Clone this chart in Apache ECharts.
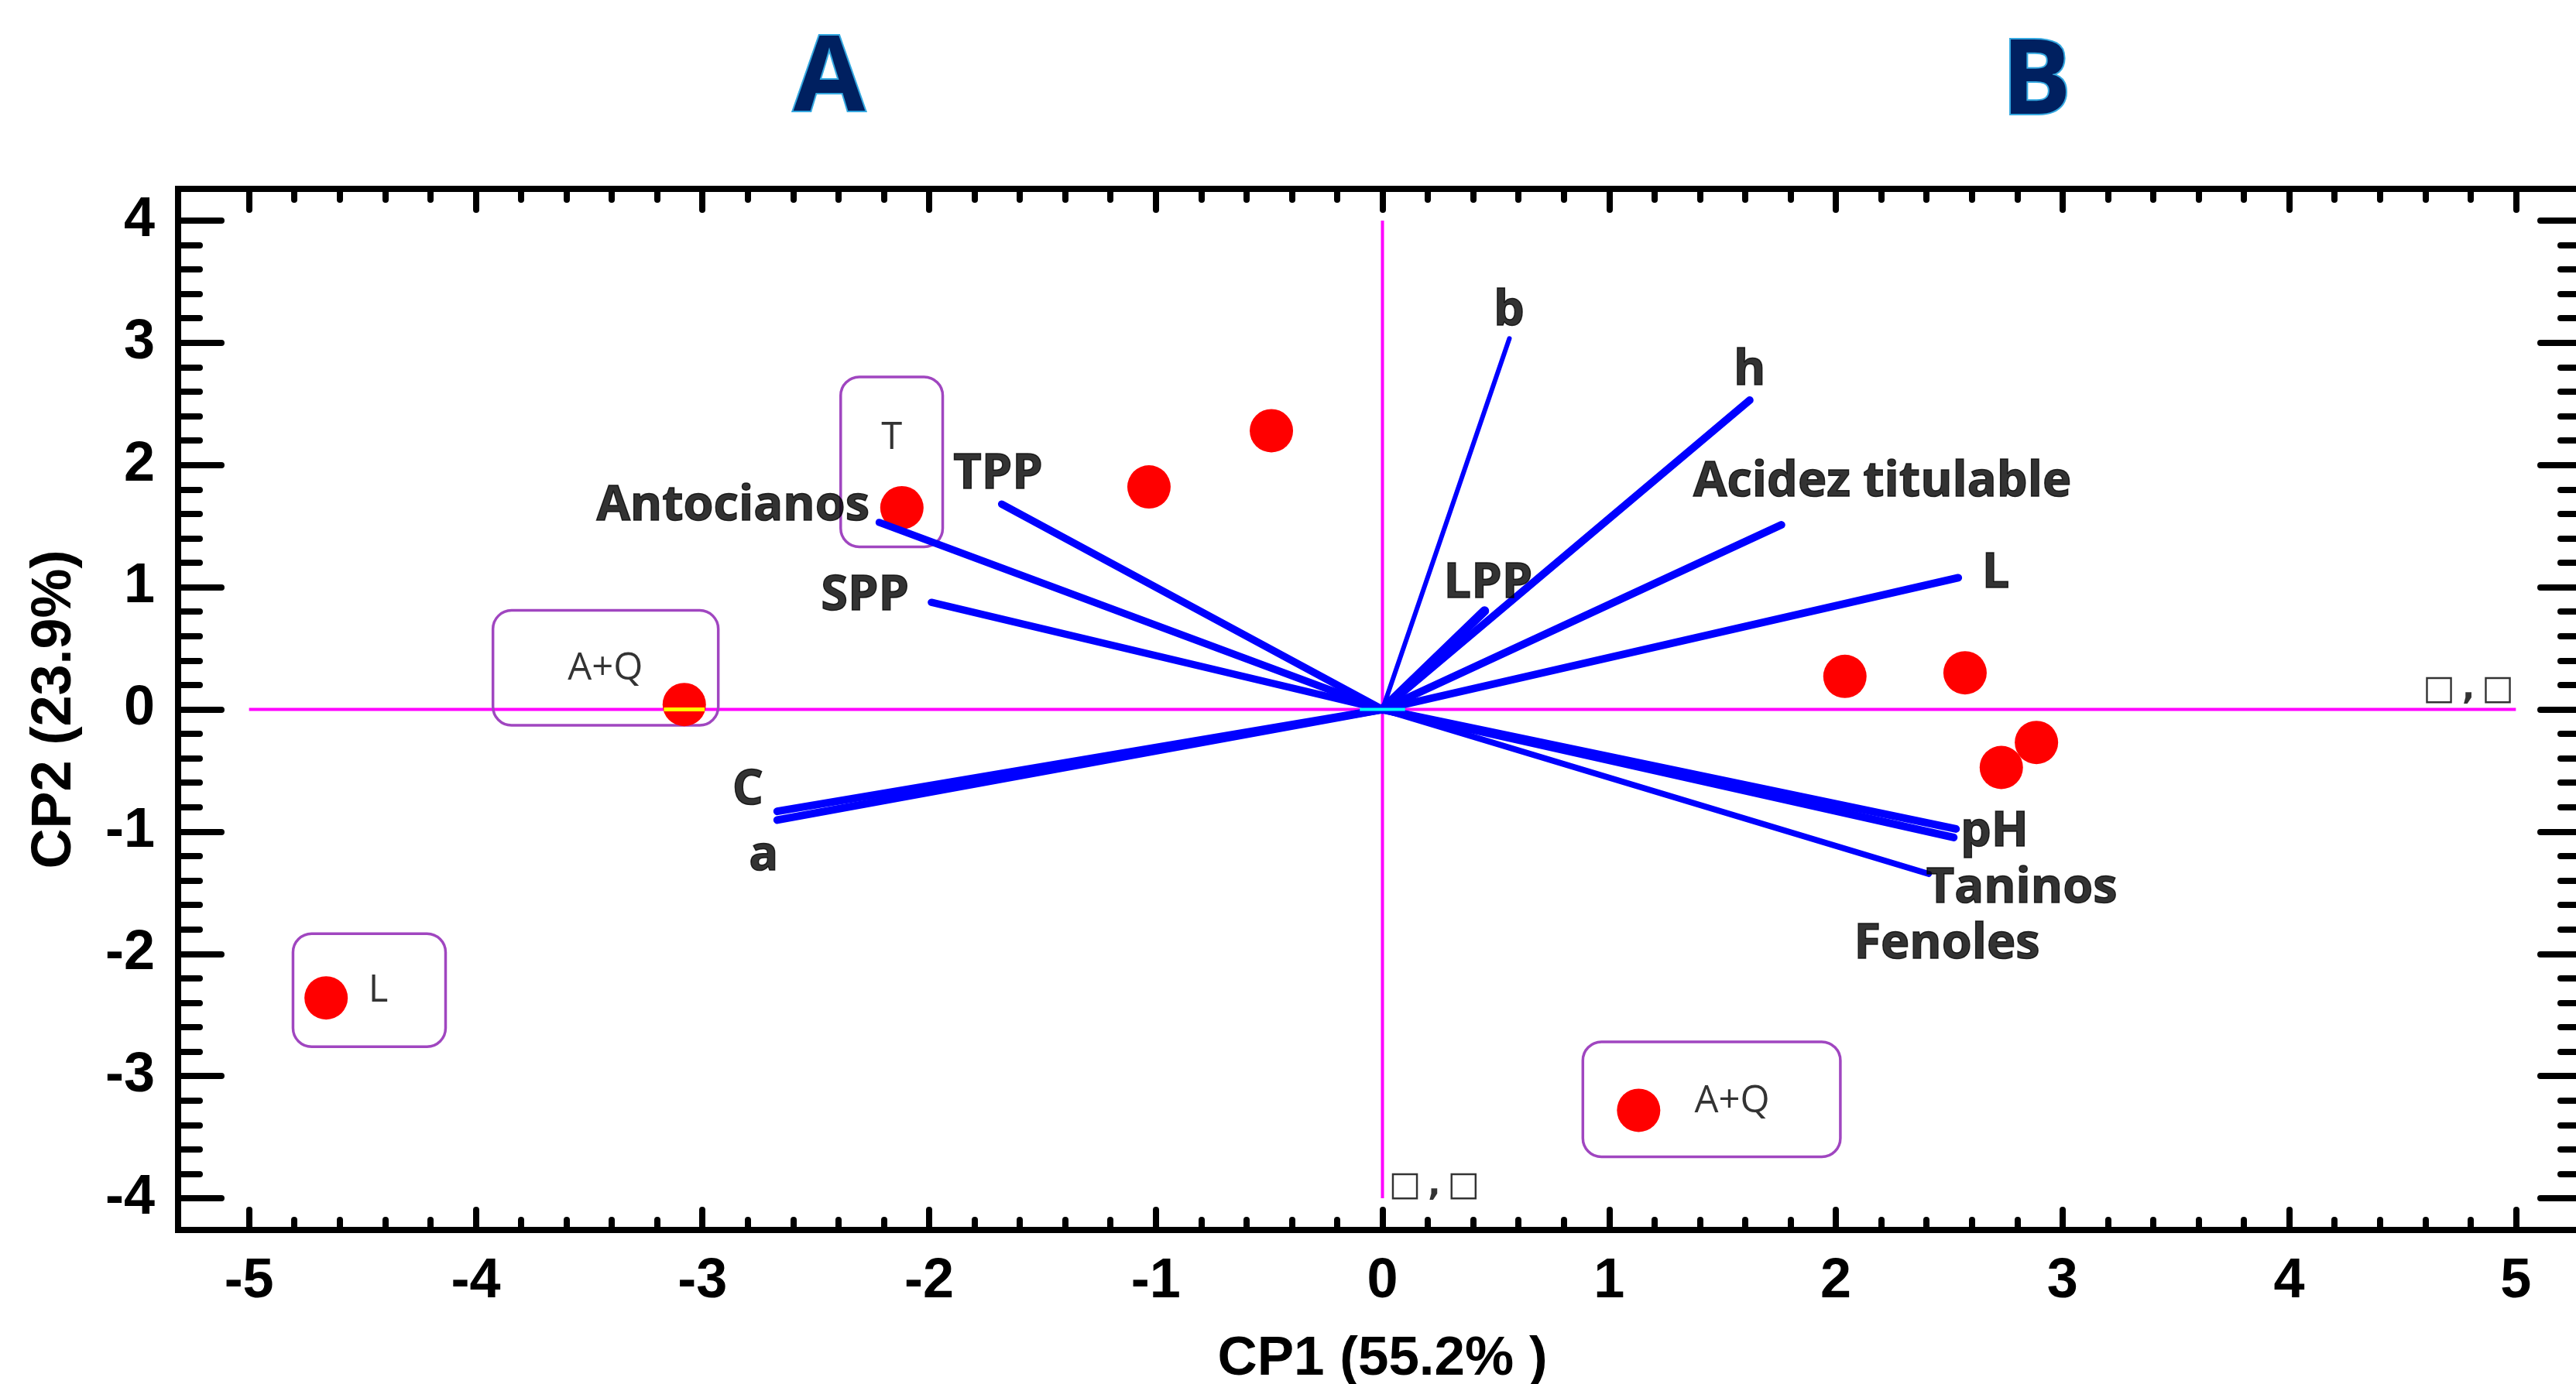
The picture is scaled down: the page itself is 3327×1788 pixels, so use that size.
<!DOCTYPE html>
<html lang="es">
<head>
<meta charset="UTF-8">
<title>Biplot CP1 - CP2</title>
<script src="https://cdn.jsdelivr.net/npm/echarts@6/dist/echarts.min.js"></script>
<style>html,body{margin:0;padding:0;background:#fff;overflow:hidden;}</style>
</head>
<body>
<div id="main" style="width:3327px;height:1788px;"></div>
<script type="text/javascript">
// puntuaciones de las muestras (CP1, CP2)
var sampleX = [-4.66, -3.08, -2.12, -1.03, -0.49, 2.04, 2.57, 2.73, 2.885, 1.13];
var sampleY = [-2.36, 0.04, 1.65, 1.82, 2.28, 0.27, 0.30, -0.475, -0.27, -3.28];

// cargas de las variables (extremo de cada vector)
var varNames = ['b', 'h', 'Acidez titulable', 'L', 'LPP', 'TPP', 'Antocianos', 'SPP', 'C', 'a', 'pH', 'Taninos', 'Fenoles'];
var varX = [0.56, 1.62, 1.76, 2.54, 0.45, -1.68, -2.22, -1.99, -2.67, -2.67, 2.53, 2.52, 2.41];
var varY = [3.035, 2.53, 1.51, 1.077, 0.806, 1.68, 1.53, 0.876, -0.834, -0.905, -0.978, -1.048, -1.346];
var varWidth = [6, 10, 10, 10, 12, 9.5, 9.5, 9.5, 10, 10, 10, 10, 8];

// posicion de los nombres de las variables
var varLabelX = [0.558, 1.62, 2.205, 2.705, 0.466, -1.696, -2.865, -2.283, -2.80, -2.73, 2.70, 2.82, 2.49];
var varLabelY = [3.26, 2.77, 1.86, 1.11, 1.03, 1.92, 1.66, 0.925, -0.66, -1.20, -1.005, -1.467, -1.92];

// recuadros de los grupos
var groupNames = ['T', 'A+Q', 'L', 'A+Q'];
var groupLabelX = [-2.165, -3.428, -4.43, 1.542];
var groupLabelY = [2.22, 0.33, -2.30, -3.205];
var boxX1 = [-2.39, -3.924, -4.806, 0.884];
var boxY1 = [2.72, 0.81, -1.835, -2.72];
var boxX2 = [-1.94, -2.93, -4.133, 2.02];
var boxY2 = [1.33, -0.13, -2.76, -3.66];

// textos sin glifo ("□,□")
var tofuX = [0.028, 4.59];
var tofuY = [-3.90, 0.16];

// ejes de referencia y marcas
var refX = [-5, 5];
var refY = [-4, 4];
var yellowX = [-3.17, -2.99];
var cyanX = [-0.1, 0.1];
var xTicks = [-5, -4, -3, -2, -1, 0, 1, 2, 3, 4, 5];
var yTicks = [-4, -3, -2, -1, 0, 1, 2, 3, 4];

var X_MIN = -5.313, X_MAX = 5.313, Y_MIN = -4.259, Y_MAX = 4.259;

function minorOf(ticks) {
    var out = [];
    for (var i = 0; i < ticks.length - 1; i++) {
        for (var k = 1; k < 5; k++) out.push(+(ticks[i] + k * 0.2).toFixed(2));
    }
    return out;
}

function axis(pos, min, max, ticks, len, withLine) {
    return {
        type: 'value', position: pos, min: min, max: max,
        splitLine: {show: false},
        axisLine: {show: withLine, onZero: false, lineStyle: {color: '#000', width: 8, cap: 'square'}},
        axisTick: {show: true, inside: true, length: len, customValues: ticks,
                   lineStyle: {color: '#000', width: 8, cap: 'round'}},
        axisLabel: {show: false}
    };
}

var tickFont = {color: '#000', fontSize: 72, fontWeight: 'bold', fontFamily: '"Liberation Sans", Arial, sans-serif'};

var xBottom = axis('bottom', X_MIN, X_MAX, xTicks, 26, true);
xBottom.axisLabel = Object.assign({show: true, customValues: xTicks, margin: 31}, tickFont);
xBottom.name = 'CP1 (55.2% )';
xBottom.nameLocation = 'middle';
xBottom.nameGap = 132;
xBottom.nameTextStyle = Object.assign({}, tickFont, {fontSize: 71});

var yLeft = axis('left', Y_MIN, Y_MAX, yTicks, 56, true);
yLeft.axisLabel = Object.assign({show: true, customValues: yTicks, margin: 30}, tickFont);
yLeft.name = 'CP2 (23.9%)';
yLeft.nameLocation = 'middle';
yLeft.nameRotate = 90;
yLeft.nameGap = 123;
yLeft.nameTextStyle = Object.assign({}, tickFont, {fontSize: 72});

var myChart = echarts.init(document.getElementById('main'));

var labelFont = {color: '#000000', fontSize: 63, fontWeight: 'bold', fontFamily: '"Open Sans", sans-serif',
                 textBorderColor: '#000000', textBorderWidth: 1.5};

var option = {
    backgroundColor: '#fff',
    animation: false,
    // el marco sigue un poco mas alla del borde derecho, como en el original
    grid: {left: 230, top: 244, width: 3111, height: 1345, containLabel: false, outerBoundsMode: 'none'},
    xAxis: [
        xBottom,
        axis('bottom', X_MIN, X_MAX, minorOf(xTicks), 13, false),
        axis('top', X_MIN, X_MAX, xTicks, 27, true),
        axis('top', X_MIN, X_MAX, minorOf(xTicks), 14, false)
    ],
    yAxis: [
        yLeft,
        axis('left', Y_MIN, Y_MAX, minorOf(yTicks), 28, false),
        axis('right', Y_MIN, Y_MAX, yTicks, 60, true),
        axis('right', Y_MIN, Y_MAX, minorOf(yTicks), 34, false)
    ],
    graphic: [
        {type: 'text', x: 1071, y: 38, z: 10,
         style: {text: 'A', fill: '#002060', stroke: '#35A8E0', lineWidth: 4,
                 fontSize: 134, fontWeight: 'bold', fontFamily: '"Open Sans", sans-serif',
                 align: 'center', verticalAlign: 'top'}},
        {type: 'text', x: 2630, y: 42, z: 10,
         style: {text: 'B', fill: '#002060', stroke: '#35A8E0', lineWidth: 4,
                 fontSize: 134, fontWeight: 'bold', fontFamily: '"Open Sans", sans-serif',
                 align: 'center', verticalAlign: 'top'}}
    ],
    series: [
        {   // ejes magenta
            type: 'line', z: 1, silent: true, symbol: 'none',
            lineStyle: {color: '#FF00FF', width: 4},
            data: refX.map(function (x) { return [x, 0]; })
        },
        {
            type: 'line', z: 1, silent: true, symbol: 'none',
            lineStyle: {color: '#FF00FF', width: 4},
            data: refY.map(function (y) { return [0, y]; })
        },
        {   // recuadros
            type: 'custom', z: 2, silent: true,
            encode: {x: [0, 2], y: [1, 3]},
            data: boxX1.map(function (x, i) { return [x, boxY1[i], boxX2[i], boxY2[i]]; }),
            renderItem: function (params, api) {
                var a = api.coord([api.value(0), api.value(1)]);
                var b = api.coord([api.value(2), api.value(3)]);
                return {
                    type: 'rect',
                    shape: {x: a[0], y: a[1], width: b[0] - a[0], height: b[1] - a[1], r: 24},
                    style: {fill: 'none', stroke: '#A046C0', lineWidth: 3.5}
                };
            }
        },
        {   // muestras
            type: 'scatter', z: 3, symbol: 'circle', symbolSize: 56,
            itemStyle: {color: '#FF0000', opacity: 1},
            data: sampleX.map(function (x, i) { return [x, sampleY[i]]; })
        },
        {   // vectores
            type: 'custom', z: 4, silent: true,
            data: varX.map(function (x, i) { return [x, varY[i], varWidth[i]]; }),
            renderItem: function (params, api) {
                var o = api.coord([0, 0]);
                var p = api.coord([api.value(0), api.value(1)]);
                return {
                    type: 'line',
                    shape: {x1: o[0], y1: o[1], x2: p[0], y2: p[1]},
                    style: {stroke: '#0000FF', lineWidth: api.value(2), lineCap: 'round'}
                };
            }
        },
        {
            type: 'line', z: 5, silent: true, symbol: 'none',
            lineStyle: {color: '#FFFF00', width: 5},
            data: yellowX.map(function (x) { return [x, 0]; })
        },
        {
            type: 'line', z: 5, silent: true, symbol: 'none',
            lineStyle: {color: '#00FFFF', width: 4},
            data: cyanX.map(function (x) { return [x, 0]; })
        },
        {   // nombres de variables
            type: 'scatter', z: 6, silent: true, symbolSize: 1,
            itemStyle: {color: 'rgba(0,0,0,0)'},
            label: Object.assign({show: true, position: 'inside', align: 'center', verticalAlign: 'middle',
                                  formatter: function (p) { return varNames[p.dataIndex]; }}, labelFont),
            data: varLabelX.map(function (x, i) { return [x, varLabelY[i]]; })
        },
        {   // nombres de grupos
            type: 'scatter', z: 6, silent: true, symbolSize: 1,
            itemStyle: {color: 'rgba(0,0,0,0)'},
            label: {show: true, position: 'inside', align: 'center', verticalAlign: 'middle',
                    color: '#000', fontSize: 49, fontFamily: '"Open Sans", sans-serif',
                    formatter: function (p) { return groupNames[p.dataIndex]; }},
            data: groupLabelX.map(function (x, i) { return [x, groupLabelY[i]]; })
        },
        {
            type: 'scatter', z: 6, silent: true, symbolSize: 1,
            itemStyle: {color: 'rgba(0,0,0,0)'},
            label: {show: true, position: 'inside', align: 'left', verticalAlign: 'middle',
                    color: '#000', fontSize: 44, fontWeight: 'bold', fontFamily: '"DejaVu Sans", sans-serif',
                    formatter: '\u25A1\u2009,\u2009\u25A1'},
            data: tofuX.map(function (x, i) { return [x, tofuY[i]]; })
        }
    ]
};

myChart.setOption(option);
</script>
</body>
</html>
